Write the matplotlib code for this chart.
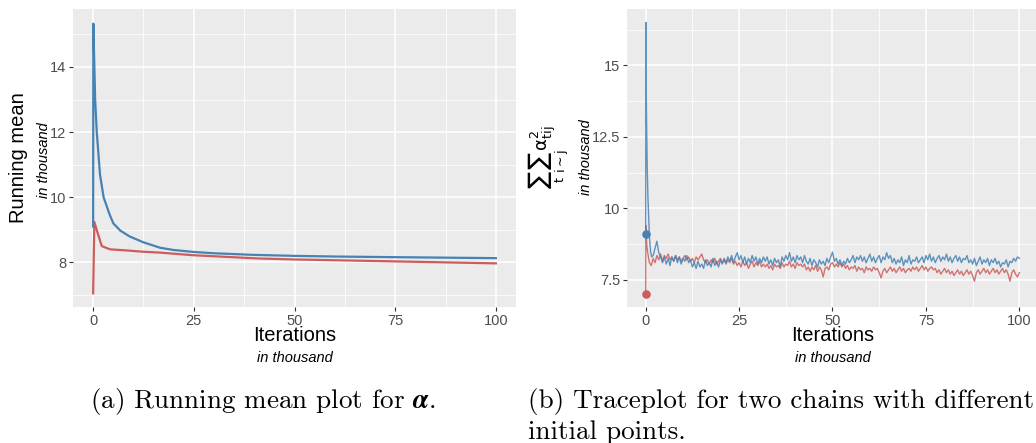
import numpy as np
import matplotlib.pyplot as plt

BLUE = "#4682B4"
RED = "#CD5C5C"
PANEL = "#EBEBEB"

# (a) running means, x in thousand iterations
rm_blue_x = [0, 0.05, 0.5, 0.9, 1.7, 2.6, 4, 5, 6.7, 9, 12.4, 16.6, 20, 25, 30, 40, 50, 60, 75, 100]
rm_blue_y = [9.1, 15.33, 13.0, 12.0, 10.7, 10.0, 9.5, 9.2, 8.98, 8.8, 8.62, 8.45, 8.38, 8.32,
             8.28, 8.23, 8.2, 8.18, 8.16, 8.13]
rm_red_x = [0, 0.3, 1.0, 2.15, 4.2, 8, 12, 16.6, 24.8, 41, 50, 75, 100]
rm_red_y = [7.05, 9.24, 8.95, 8.5, 8.4, 8.37, 8.33, 8.3, 8.22, 8.12, 8.09, 8.03, 7.97]

# (b) traceplot: burn-in part read separately, then one value every 0.5 thousand from 2 to 100
tr_blue_start_x = [0, 0.05, 0.2, 0.4, 0.6, 0.8, 1.0, 1.3, 1.6]
tr_blue_start_y = [9.1, 16.5, 13.5, 11.5, 10.4, 9.7, 9.0, 8.5, 8.3]
tr_red_start_x = [0, 0.05, 0.3, 0.6, 1.0, 1.5]
tr_red_start_y = [7.0, 9.4, 8.7, 8.4, 8.1, 8.0]

tr_blue = [
    8.35, 8.6, 8.85, 8.45, 8.3, 8.1, 8.3, 8.05, 8.25, 8.0, 8.3, 8.15, 8.35, 8.1, 8.3, 8.05, 8.25, 8.15, 8.35, 8.1,
    8.2, 7.95, 8.1, 7.9, 8.15, 7.95, 8.05, 7.9, 8.2, 8.0, 8.1, 7.95, 8.25, 8.0, 8.15, 7.95, 8.2, 8.05, 8.25, 8.1,
    8.3, 8.15, 8.35, 8.1, 8.3, 8.45, 8.2, 8.35, 8.1, 8.3, 8.05, 8.25, 8.1, 8.35, 8.15, 8.3, 8.05, 8.25, 8.1, 8.3,
    8.15, 8.3, 8.05, 8.2, 8.0, 8.25, 8.1, 8.2, 7.95, 8.3, 8.15, 8.35, 8.2, 8.45, 8.15, 8.3, 8.1, 8.35, 8.2, 8.3,
    8.1, 8.35, 8.15, 8.05, 8.25, 8.0, 8.2, 8.1, 7.95, 8.2, 8.05, 8.15, 8.0, 8.25, 8.1, 8.3, 8.47, 8.15, 8.25, 8.05,
    8.2, 8.0, 8.15, 8.05, 8.25, 8.1, 8.2, 8.35, 8.1, 8.3, 8.2, 8.35, 8.15, 8.3, 8.1, 8.25, 8.4, 8.15, 8.3, 8.1,
    8.25, 8.35, 8.1, 8.3, 8.2, 8.45, 8.25, 8.35, 8.1, 8.25, 8.05, 8.2, 8.1, 8.3, 8.0, 8.2, 8.1, 8.35, 8.05, 8.2,
    8.15, 8.3, 8.1, 8.2, 8.3, 8.1, 8.35, 8.2, 8.4, 8.15, 8.3, 8.1, 8.25, 8.35, 8.15, 8.3, 8.2, 8.4, 8.15, 8.3,
    8.1, 8.25, 8.35, 8.15, 8.3, 8.1, 8.25, 8.2, 8.35, 8.1, 8.2, 8.05, 8.25, 8.0, 8.15, 8.3, 8.05, 8.2, 8.1, 8.25,
    8.0, 8.2, 8.1, 8.25, 8.05, 8.15, 7.95, 8.1, 8.05, 8.2, 7.95, 8.15, 8.1, 8.25, 8.15, 8.3, 8.25,
]
tr_red = [
    8.25, 8.1, 8.35, 8.2, 8.4, 8.15, 8.35, 8.25, 8.4, 8.2, 8.3, 8.15, 8.35, 8.2, 8.3, 8.15, 8.25, 8.35, 8.2, 8.3,
    8.15, 8.25, 8.1, 8.3, 8.2, 8.3, 8.4, 8.2, 8.1, 8.2, 8.05, 8.2, 8.1, 8.25, 8.05, 8.15, 8.25, 8.1, 8.2, 8.05,
    8.2, 8.1, 8.25, 8.05, 8.15, 8.0, 8.1, 7.95, 8.15, 8.0, 8.1, 7.9, 8.05, 8.15, 7.95, 8.1, 8.0, 8.15, 7.95, 8.05,
    7.95, 8.05, 7.9, 8.0, 7.85, 8.05, 7.95, 8.0, 7.9, 8.1, 7.95, 8.05, 8.0, 8.15, 7.95, 8.05, 7.9, 8.1, 8.0, 8.05,
    7.95, 8.05, 7.85, 7.95, 7.8, 7.95, 7.85, 8.0, 7.8, 7.95, 7.85, 7.6, 7.9, 7.95, 7.85, 8.05, 8.1, 7.95, 8.05, 7.95,
    8.1, 7.95, 8.05, 7.9, 8.0, 7.85, 7.95, 7.9, 8.0, 7.8, 7.95, 7.85, 7.9, 7.75, 7.95, 7.85, 7.9, 7.8, 7.95, 7.85,
    7.9, 7.75, 7.57, 7.8, 7.9, 7.75, 7.85, 7.95, 7.8, 7.9, 7.75, 7.85, 7.95, 7.8, 7.9, 7.75, 7.85, 7.9, 7.8, 7.95,
    7.85, 7.95, 7.8, 7.9, 8.0, 7.85, 7.95, 7.8, 7.9, 7.95, 7.85, 7.9, 7.75, 7.85, 7.7, 7.8, 7.9, 7.75, 7.85, 7.7,
    7.8, 7.65, 7.75, 7.85, 7.7, 7.8, 7.65, 7.75, 7.85, 7.7, 7.8, 7.65, 7.45, 7.75, 7.85, 7.7, 7.8, 7.9, 7.75, 7.85,
    7.7, 7.8, 7.9, 7.75, 7.85, 7.7, 7.8, 7.9, 7.75, 7.85, 7.7, 7.45, 7.75, 7.85, 7.7, 7.6, 7.75,
]
tr_x = np.arange(2, 100.01, 0.5)

x_ticks = [0, 25, 50, 75, 100]
ya_ticks = [8, 10, 12, 14]
yb_ticks = [7.5, 10, 12.5, 15]

SANS = "Liberation Sans"


def gg_axes(ax, xlim, ylim, yticks, yminor, ylabels):
    ax.set_facecolor(PANEL)
    for s in ax.spines.values():
        s.set_visible(False)
    ax.set_xlim(xlim)
    ax.set_ylim(ylim)
    ax.set_xticks(x_ticks)
    ax.set_xticklabels([str(v) for v in x_ticks])
    ax.set_yticks(yticks)
    ax.set_yticklabels(ylabels)
    ax.set_xticks([12.5, 37.5, 62.5, 87.5], minor=True)
    ax.set_yticks(yminor, minor=True)
    ax.grid(True, which="major", color="white", linewidth=1.1)
    ax.grid(True, which="minor", color="white", linewidth=0.55)
    ax.set_axisbelow(True)
    ax.tick_params(which="major", length=3, width=0.8, color="#333333", labelcolor="#4D4D4D",
                   labelsize=10.5, pad=2)
    ax.tick_params(which="minor", length=0)
    for lab in ax.get_xticklabels() + ax.get_yticklabels():
        lab.set_fontfamily(SANS)


fig = plt.figure(figsize=(10.36, 4.43), dpi=100)

# ---- panel (a)
ax1 = fig.add_axes([73 / 1036, 1 - 307 / 443, 443 / 1036, 298 / 443])
gg_axes(ax1, (-5, 105), (6.63, 15.78), ya_ticks, [7, 9, 11, 13, 15], ["8", "10", "12", "14"])
ax1.plot(rm_red_x, rm_red_y, color=RED, lw=1.6)
ax1.plot(rm_blue_x, rm_blue_y, color=BLUE, lw=1.6)

# ---- panel (b)
ax2 = fig.add_axes([627 / 1036, 1 - 307 / 443, 411 / 1036, 298 / 443])
gg_axes(ax2, (-5, 105), (6.55, 16.97), yb_ticks, [8.75, 11.25, 13.75, 16.25], ["7.5", "10", "12.5", "15"])
ax2.plot(list(tr_red_start_x) + list(tr_x), tr_red_start_y + tr_red, color=RED, lw=1.0, alpha=0.85)
ax2.plot(list(tr_blue_start_x) + list(tr_x), tr_blue_start_y + tr_blue, color=BLUE, lw=1.0, alpha=0.85)
ax2.scatter([tr_red_start_x[0]], [tr_red_start_y[0]], s=38, color=RED, zorder=3, linewidths=0)
ax2.scatter([tr_blue_start_x[0]], [tr_blue_start_y[0]], s=38, color=BLUE, zorder=3, linewidths=0)


# axis titles (ggplot style, placed in figure pixels)
def fx(px):
    return px / 1036


def fy(py):
    return 1 - py / 443


for cx in (294.5, 832.5):
    fig.text(fx(cx), fy(341), "Iterations", ha="center", va="baseline", fontsize=14.5, family=SANS)
    fig.text(fx(cx), fy(358), "in thousand", ha="center", va="center", fontsize=10.5,
             family=SANS, style="italic")

fig.text(fx(19), fy(158), "Running mean", ha="center", va="center", rotation=90,
         fontsize=14.5, family=SANS)
fig.text(fx(44), fy(160), "in thousand", ha="center", va="center", rotation=90,
         fontsize=10.5, family=SANS, style="italic")

fig.text(fx(549), fy(157), r"$\sum_{\mathrm{t}}\sum_{\mathrm{i\sim j}}\mathrm{\alpha}^{2}_{\mathrm{tij}}$",
         ha="center", va="center", rotation=90, fontsize=13, math_fontfamily="dejavusans")
fig.text(fx(586), fy(157), "in thousand", ha="center", va="center", rotation=90,
         fontsize=10.5, family=SANS, style="italic")

# captions
fig.text(fx(90), fy(408), r"(a) Running mean plot for $\boldsymbol{\alpha}$.", ha="left",
         va="baseline", fontsize=19.5, family="cmr10", math_fontfamily="cm")
fig.text(fx(528), fy(408), "(b) Traceplot for two chains with different", ha="left",
         va="baseline", fontsize=19.5, family="cmr10")
fig.text(fx(528), fy(439), "initial points.", ha="left", va="baseline", fontsize=19.5, family="cmr10")

fig.savefig("out.png", dpi=100)
